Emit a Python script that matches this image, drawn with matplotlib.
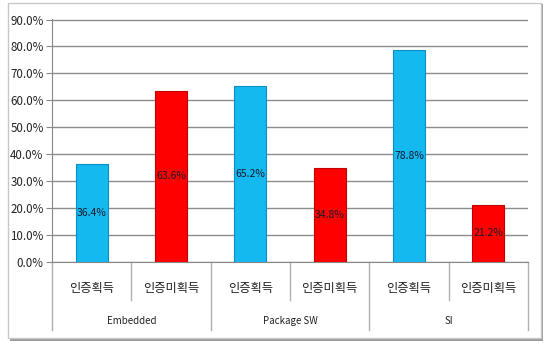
import matplotlib.pyplot as plt
from matplotlib.patches import Rectangle
from matplotlib.ticker import FuncFormatter

plt.rcParams["font.family"] = ["Noto Sans CJK KR", "DejaVu Sans"]

groups = ["Embedded", "Package SW", "SI"]
sub_labels = ["인증획득", "인증미획득"]
values = [0.364, 0.636, 0.652, 0.348, 0.788, 0.212]
bar_colors = ["#14B9F0", "#FF0000"] * 3
edge_colors = ["#0A8FC0", "#C00000"] * 3

fig = plt.figure(figsize=(5.5, 3.51), dpi=100)

# outer frame with a soft shadow
fig.patches.append(Rectangle((10 / 550, 10 / 351), 533 / 550, 337 / 351,
                             transform=fig.transFigure, facecolor="#9a9a9a",
                             edgecolor="none", zorder=-2))
fig.patches.append(Rectangle((8 / 550, 13 / 351), 533 / 550, 335 / 351,
                             transform=fig.transFigure, facecolor="white",
                             edgecolor="#c8c8c8", linewidth=1, zorder=-1))

ax = fig.add_axes([52 / 550, 89 / 351, 476 / 550, 243 / 351])
ax.set_facecolor("none")

x = range(len(values))
ax.bar(x, values, width=0.4, color=bar_colors, edgecolor=edge_colors,
       linewidth=0.8, zorder=3)

for xi, v in zip(x, values):
    ax.text(xi, v / 2, f"{v * 100:.1f}%", ha="center", va="center",
            fontsize=7.5, color="#1a1a2e", zorder=4)

ax.set_xlim(-0.5, len(values) - 0.5)
ax.set_ylim(0, 0.902)
ax.set_yticks([i / 10 for i in range(10)])
ax.yaxis.set_major_formatter(FuncFormatter(lambda v, _: f"{v * 100:.1f}%"))
ax.tick_params(axis="y", labelsize=8.3, length=4, color="#888888",
               labelcolor="#222222", pad=2)
ax.set_xticks([])
ax.grid(axis="y", color="#8c8c8c", linewidth=1, zorder=1)
for side in ["top", "right"]:
    ax.spines[side].set_visible(False)
ax.spines["left"].set_color("#888888")
ax.spines["bottom"].set_color("#888888")

# multi-level category axis
trans = ax.get_xaxis_transform()
sub_bottom = -0.157
grp_bottom = -0.28
for i in range(len(values) + 1):
    edge = i - 0.5
    low = grp_bottom if i % 2 == 0 else sub_bottom
    ax.plot([edge, edge], [0, low], transform=trans, color="#b0b0b0",
            linewidth=1, clip_on=False)

for i in range(len(values)):
    ax.text(i, -0.107, sub_labels[i % 2], transform=trans, ha="center",
            va="center", fontsize=8.8, color="#222222")

for g, name in enumerate(groups):
    ax.text(2 * g + 0.5, -0.243, name, transform=trans, ha="center",
            va="center", fontsize=7, color="#222222")

fig.savefig("out.png", dpi=100)
